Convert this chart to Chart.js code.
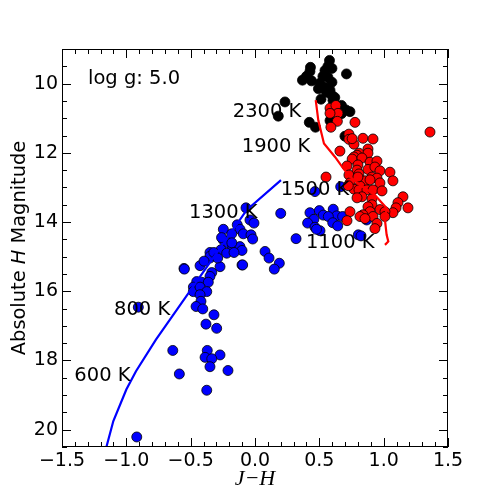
<!DOCTYPE html>
<html>
<head>
<meta charset="utf-8">
<script src="https://cdn.jsdelivr.net/npm/chart.js@4.4.1/dist/chart.umd.min.js"></script>
<style>
  html, body { margin: 0; padding: 0; background: #fff; }
  #wrap { width: 498px; height: 498px; }
</style>
</head>
<body>
<div id="wrap"><canvas id="cmd" width="498" height="498"></canvas></div>
<script>
// J-H colour vs absolute H magnitude
let blackJH = [0.579,0.567,0.431,0.427,0.544,0.598,0.711,0.400,0.369,0.439,0.528,0.567,0.598,0.505,0.493,0.544,0.583,0.556,0.598,0.513,0.606,0.672,0.707,0.738,0.233,0.181,0.422,0.470,0.583,0.672,0.699,0.622,0.620];
let blackMH = [9.33,9.50,9.53,9.65,9.62,9.56,9.72,9.79,9.90,9.92,9.79,9.82,9.96,9.99,10.15,10.11,10.19,10.25,10.34,10.45,10.48,10.63,10.76,10.81,10.53,10.94,11.12,11.26,11.07,10.87,11.52,10.60,10.40];

let blueJH = [0.466,0.666,0.200,-0.070,-0.039,-0.008,-0.138,-0.246,-0.117,-0.181,-0.091,-0.031,-0.018,-0.246,-0.207,-0.173,-0.117,-0.101,-0.264,-0.220,-0.163,-0.350,-0.350,0.078,0.109,0.189,0.150,-0.101,-0.272,-0.427,-0.552,-0.336,0.319,0.427,0.500,0.531,0.608,0.635,0.570,0.458,0.409,0.466,0.505,0.604,0.643,0.681,0.803,0.824,0.868,0.478,
  -0.549,-0.350,-0.096,-0.350,-0.453,-0.414,-0.363,-0.479,-0.479,-0.427,-0.375,-0.427,-0.420,-0.458,-0.406,-0.319,-0.381,-0.298,-0.639,-0.371,-0.272,-0.388,-0.336,-0.350,-0.210,-0.588,-0.375,-0.919,-0.907,-0.320,-0.290,-0.180,-0.396,-0.260];
let blueMH = [13.12,12.98,13.75,13.59,13.94,14.03,14.08,14.21,14.21,14.34,14.34,14.37,14.49,14.52,14.61,14.71,14.71,14.82,14.80,14.90,14.88,14.88,15.04,14.85,15.04,15.19,15.36,15.24,15.29,15.26,15.34,15.46,14.48,13.73,13.67,13.80,13.63,13.82,13.84,13.92,14.03,14.15,14.25,14.02,14.11,13.84,14.37,14.40,13.94,14.21,
  15.36,14.99,15.24,15.57,15.72,15.74,15.74,15.88,16.01,15.88,16.01,16.10,16.29,16.44,16.51,16.68,16.95,17.07,17.71,17.71,17.84,17.91,17.95,18.18,18.29,18.39,18.86,20.21,16.46,14.88,15.04,14.60,15.13,14.45];

let redJH = [0.583,0.629,0.645,0.583,0.640,0.777,0.590,0.730,0.839,0.917,0.730,0.769,0.660,0.878,0.808,0.878,0.793,0.769,0.755,0.831,0.894,0.948,0.715,0.800,0.793,0.878,0.932,0.971,1.049,0.730,0.808,0.909,0.948,1.072,0.855,0.894,0.738,0.971,0.816,0.552,0.769,0.808,0.870,0.917,0.987,0.831,0.793,0.909,1.150,1.111,1.189,1.096,1.072,0.909,0.878,0.971,1.010,0.894,0.839,0.738,0.715,0.816,0.917,1.010,0.948,0.932,0.855,1.360,0.755,0.800,0.725];
let redMH = [10.71,10.63,10.86,10.86,11.09,11.12,11.26,11.46,11.58,11.60,11.61,11.75,11.95,11.89,12.01,12.01,12.07,12.12,12.18,12.15,12.27,12.24,12.38,12.35,12.50,12.48,12.41,12.52,12.56,12.64,12.61,12.70,12.73,12.81,12.81,12.78,12.87,12.87,12.96,12.70,13.05,13.07,13.07,13.07,13.10,13.27,13.30,13.33,13.27,13.44,13.59,13.59,13.73,13.50,13.56,13.64,13.70,13.70,13.79,13.70,13.96,13.84,13.84,13.84,14.04,14.19,13.90,11.40,11.59,12.70,12.95];

// model tracks
let redLineJH = [0.472,0.492,0.536,0.622,0.686,0.738,0.816,0.932,1.023,1.010,1.023,1.036,1.010];
let redLineMH = [10.48,11.06,11.73,12.12,12.45,12.69,12.93,13.22,13.60,13.94,14.37,14.56,14.66];
let blueLineJH = [0.202,-0.064,-0.770,-0.925,-1.000,-1.101,-1.155];
let blueLineMH = [12.79,13.65,17.40,18.31,18.84,19.75,20.50];

// temperature labels (left edge, baseline)
let labelText = ['log g: 5.0','2300 K','1900 K','1500 K','1300 K','1100 K','800 K','600 K'];
let labelJH = [-1.298,-0.173,-0.103,0.200,-0.513,0.396,-1.096,-1.404];
let labelMH = [10.02,10.96,11.97,13.22,13.88,14.75,16.68,18.60];

let xTicks = [-1.5,-1.0,-0.5,0.0,0.5,1.0,1.5];
let yTicks = [10,12,14,16,18,20];

function pts(xs, ys) {
  return xs.map((x, i) => ({x: x, y: ys[i]}));
}

const FONT = "'DejaVu Sans', sans-serif";

const decor = {
  id: 'decor',
  afterDatasetsDraw(chart) {
    const ctx = chart.ctx;
    const a = chart.chartArea;
    const xs = chart.scales.x, ys = chart.scales.y;
    ctx.save();
    ctx.strokeStyle = '#000';
    ctx.lineWidth = 1;
    // inward ticks on all four sides
    ctx.beginPath();
    for (let i = -15; i <= 15; i++) {
      const px = Math.round(xs.getPixelForValue(i / 10)) + 0.5;
      const len = (i % 5 === 0) ? 9 : 5;
      ctx.moveTo(px, a.bottom); ctx.lineTo(px, a.bottom - len);
      ctx.moveTo(px, a.top); ctx.lineTo(px, a.top + len);
    }
    for (let j = 18; j <= 41; j++) {
      const v = j / 2;
      const py = Math.round(ys.getPixelForValue(v)) + 0.5;
      const len = (v % 2 === 0) ? 9 : 5;
      ctx.moveTo(a.left, py); ctx.lineTo(a.left + len, py);
      ctx.moveTo(a.right, py); ctx.lineTo(a.right - len, py);
    }
    ctx.stroke();
    ctx.strokeRect(Math.round(a.left) + 0.5, Math.round(a.top) + 0.5,
                   Math.round(a.right - a.left) - 1, Math.round(a.bottom - a.top) - 1);

    // annotations
    ctx.fillStyle = '#000';
    ctx.font = '19.5px ' + FONT;
    ctx.textAlign = 'left';
    ctx.textBaseline = 'alphabetic';
    labelText.forEach((t, i) => {
      ctx.fillText(t, xs.getPixelForValue(labelJH[i]), ys.getPixelForValue(labelMH[i]));
    });

    // x axis title
    ctx.font = "italic 22px 'Liberation Serif', 'DejaVu Serif', serif";
    ctx.textAlign = 'center';
    ctx.fillText('J\u2212H', (a.left + a.right) / 2, 485);

    // y axis title with italic H
    ctx.translate(25, (a.top + a.bottom) / 2);
    ctx.rotate(-Math.PI / 2);
    const f1 = '19.4px ' + FONT, f2 = "italic 19.4px " + FONT;
    const p1 = 'Absolute ', p2 = 'H', p3 = ' Magnitude';
    ctx.font = f1; const w1 = ctx.measureText(p1).width, w3 = ctx.measureText(p3).width;
    ctx.font = f2; const w2 = ctx.measureText(p2).width;
    let x0 = -(w1 + w2 + w3) / 2;
    ctx.textAlign = 'left';
    ctx.font = f1; ctx.fillText(p1, x0, 0);
    ctx.font = f2; ctx.fillText(p2, x0 + w1, 0);
    ctx.font = f1; ctx.fillText(p3, x0 + w1 + w2, 0);
    ctx.restore();
  }
};

const fmt = v => v.toFixed(1).replace('-', '\u2212');

new Chart(document.getElementById('cmd').getContext('2d'), {
  type: 'scatter',
  data: {
    datasets: [
      {data: pts(redLineJH, redLineMH), showLine: true, borderColor: '#ff0000', borderWidth: 2.2,
       pointRadius: 0, fill: false, order: 0},
      {data: pts(redJH, redMH), backgroundColor: '#ff0000', borderColor: '#000', borderWidth: 0.8,
       pointRadius: 5, order: 1},
      {data: pts(blueLineJH, blueLineMH), showLine: true, borderColor: '#0000ff', borderWidth: 2.2,
       pointRadius: 0, fill: false, order: 2},
      {data: pts(blueJH, blueMH), backgroundColor: '#0000ff', borderColor: '#000', borderWidth: 0.8,
       pointRadius: 5, order: 3},
      {data: pts(blackJH, blackMH), backgroundColor: '#000', borderColor: '#000', borderWidth: 0.8,
       pointRadius: 5, order: 4}
    ]
  },
  options: {
    responsive: false,
    animation: false,
    events: [],
    layout: {padding: {top: 49, right: 50, left: 0, bottom: 0}},
    plugins: {legend: {display: false}, tooltip: {enabled: false}},
    scales: {
      x: {
        type: 'linear', min: -1.5, max: 1.5,
        afterBuildTicks: s => { s.ticks = xTicks.map(v => ({value: v})); },
        afterFit: s => { s.height = 51; },
        grid: {display: false, drawTicks: false},
        border: {display: false},
        ticks: {color: '#000', font: {family: FONT, size: 19}, padding: 3, maxRotation: 0,
                callback: v => fmt(v)}
      },
      y: {
        type: 'linear', min: 9, max: 20.5, reverse: true,
        afterBuildTicks: s => { s.ticks = yTicks.map(v => ({value: v})); },
        afterFit: s => { s.width = 62; },
        grid: {display: false, drawTicks: false},
        border: {display: false},
        ticks: {color: '#000', font: {family: FONT, size: 19}, padding: 4,
                callback: v => String(v)}
      }
    }
  },
  plugins: [decor]
});
</script>
</body>
</html>
